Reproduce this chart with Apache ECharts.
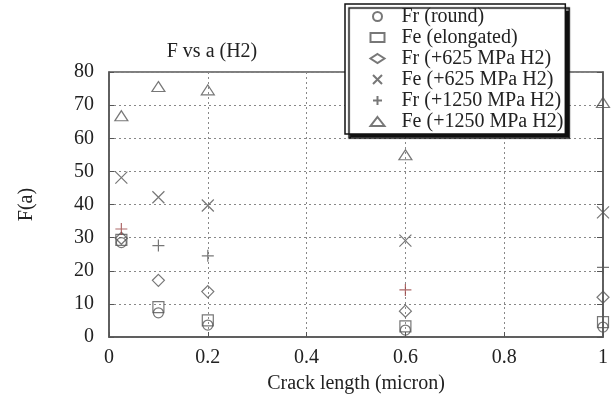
<!DOCTYPE html>
<html>
<head>
<meta charset="utf-8">
<script src="https://cdn.jsdelivr.net/npm/echarts@6/dist/echarts.min.js"></script>
<style>
  html, body { margin: 0; padding: 0; background: #fff; }
  #chart { width: 615px; height: 400px; }
</style>
</head>
<body>
<div id="chart"></div>
<script>
// crack lengths (micron)
const crackLength = [0.025, 0.1, 0.2, 0.6, 1.0];

const frRound = [28.5, 7.3, 3.6, 2.1, 3.0];
const feElongated = [29.3, 9.0, 5.0, 3.2, 4.5];
const fr625 = [29.8, 17.1, 13.7, 7.8, 12.0];
const fe625 = [48.1, 42.2, 39.7, 29.1, 37.6];
const fr1250 = [32.6, 27.6, 24.5, 14.2, 21.0];
const fe1250 = [66.8, 75.6, 74.6, 55.0, 70.8];

const FONT = "'Liberation Serif', 'Times New Roman', serif";
const INK = "#555";

const chart = echarts.init(document.getElementById("chart"));

function pts(values) {
  return crackLength.map((x, i) => [x, values[i]]);
}

function scatter(name, values, symbol, size, data) {
  return {
    name,
    type: "scatter",
    data: data || pts(values),
    symbol,
    symbolSize: size,
    clip: false,
    itemStyle: { color: "none", borderColor: INK, borderWidth: 1.2 },
    z: 5,
  };
}

// the reddish crosses in the reference (first and fourth points)
const fr1250Data = pts(fr1250).map((p, i) =>
  i === 0 || i === 3 ? { value: p, itemStyle: { borderColor: "#9a4444" } } : p
);

const cross = "path://M0,0L10,10M10,0L0,10";
const plus = "path://M5,0L5,10M0,5L10,5";

chart.setOption({
  animation: false,
  title: {
    text: "F vs a (H2)",
    left: 207,
    top: 37,
    textAlign: "center",
    textStyle: { fontFamily: FONT, fontSize: 20, fontWeight: "normal", color: "#222" },
  },
  legend: {
    orient: "vertical",
    left: 345,
    top: 4,
    padding: [2, 2, 2, 23],
    itemWidth: 14,
    itemHeight: 9,
    itemGap: 0,
    backgroundColor: "#fff",
    borderColor: "#111",
    borderWidth: 1.5,
    borderRadius: 0,
    shadowColor: "#111",
    shadowBlur: 1,
    shadowOffsetX: 4,
    shadowOffsetY: 4,
    textStyle: { fontFamily: FONT, fontSize: 20, lineHeight: 21, color: "#222", padding: [0, 0, 0, 12] },
  },
  grid: { left: 109, right: 12, top: 72, bottom: 63, show: true, borderColor: INK, borderWidth: 1.5 },
  xAxis: {
    type: "value",
    min: 0,
    max: 1,
    interval: 0.2,
    name: "Crack length (micron)",
    nameLocation: "middle",
    nameGap: 37,
    nameTextStyle: { fontFamily: FONT, fontSize: 20, color: "#222" },
    axisLine: { lineStyle: { color: INK, width: 1.5 } },
    axisTick: { inside: true, length: 5, lineStyle: { color: INK } },
    axisLabel: {
      fontFamily: FONT, fontSize: 20, color: "#222", margin: 11,
      formatter: (v) => (v === 0 || v === 1 ? String(v) : v.toFixed(1)),
    },
    splitLine: { lineStyle: { color: "#888", type: [2, 3], width: 1 } },
  },
  yAxis: [
    {
      type: "value",
      min: 0,
      max: 80,
      interval: 10,
      name: "F(a)",
      nameLocation: "middle",
      nameGap: 72,
      nameRotate: 90,
      nameTextStyle: { fontFamily: FONT, fontSize: 20, color: "#222" },
      axisLine: { show: true, lineStyle: { color: INK, width: 1.5 } },
      axisTick: { show: true, inside: true, length: 5, lineStyle: { color: INK } },
      axisLabel: { fontFamily: FONT, fontSize: 20, color: "#222", margin: 15 },
      splitLine: { lineStyle: { color: "#888", type: [2, 3], width: 1 } },
    },
    {
      type: "value",
      position: "right",
      min: 0,
      max: 80,
      interval: 10,
      axisLine: { show: true, lineStyle: { color: INK, width: 1.5 } },
      axisTick: { show: true, inside: true, length: 6, lineStyle: { color: INK } },
      axisLabel: { show: false },
      splitLine: { show: false },
    },
  ],
  series: [
    scatter("Fr (round)", frRound, "circle", 10),
    scatter("Fe (elongated)", feElongated, "rect", 11),
    scatter("Fr (+625 MPa H2)", fr625, "diamond", 12),
    scatter("Fe (+625 MPa H2)", fe625, cross, 12),
    scatter("Fr (+1250 MPa H2)", fr1250, plus, 12, fr1250Data),
    scatter("Fe (+1250 MPa H2)", fe1250, "triangle", [13, 10]),
  ],
});
</script>
</body>
</html>
